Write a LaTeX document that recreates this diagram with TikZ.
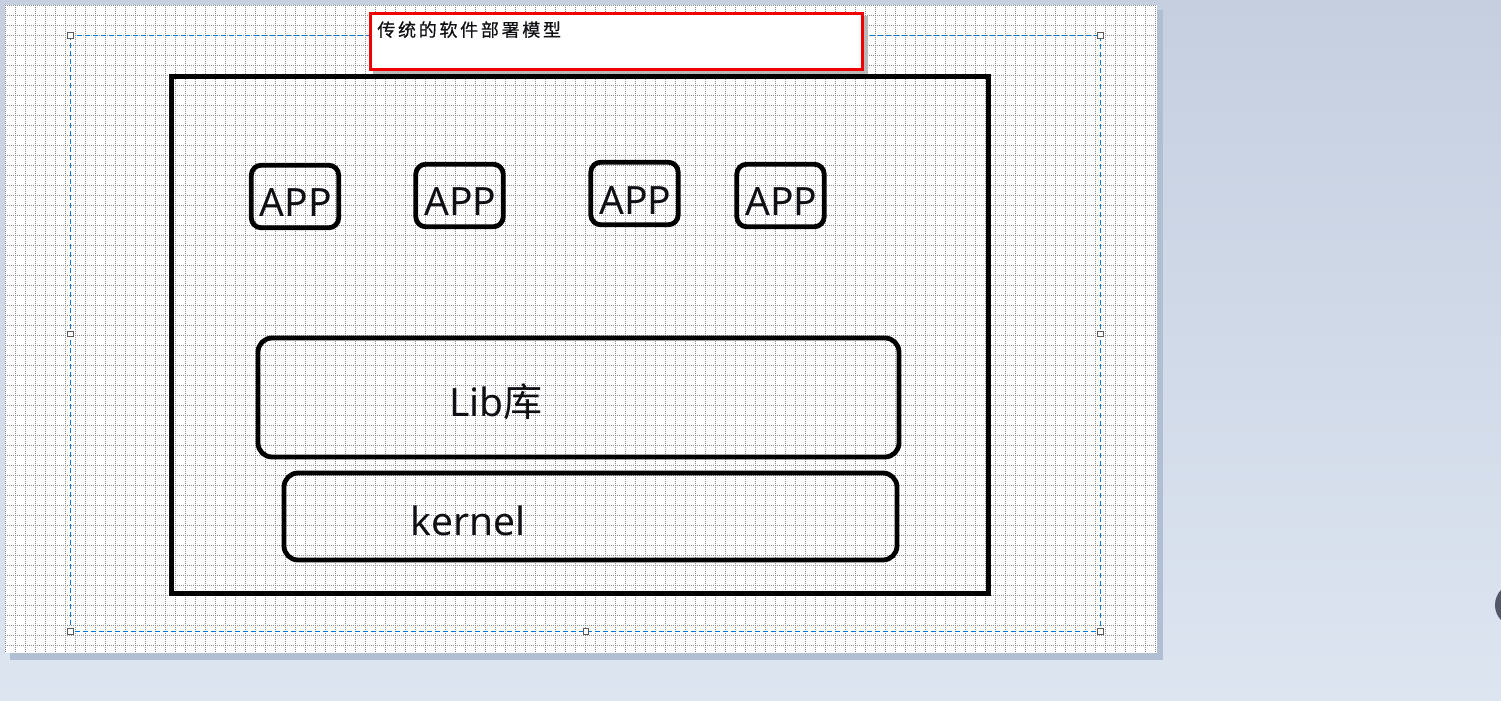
\documentclass[tikz,border=0pt]{standalone}
\usepackage{fontspec}
\setsansfont{Noto Sans}
\newfontfamily\cjkfont{Noto Sans CJK SC}
\newfontfamily\titlefont[LetterSpace=15,FakeBold=0.6]{Noto Sans CJK SC}
\usepackage{tikz}
\usetikzlibrary{positioning}
\definecolor{deskblue}{RGB}{197,207,224}
\definecolor{deskpale}{RGB}{221,229,241}
\definecolor{pageshadow}{RGB}{178,190,210}
\definecolor{gridgrey}{RGB}{140,140,140}
\definecolor{selblue}{RGB}{0,120,215}
\definecolor{handlegrey}{RGB}{90,90,90}
\definecolor{titlered}{RGB}{240,0,0}
\definecolor{boxshadow}{RGB}{185,185,185}
\definecolor{knobgrey}{RGB}{82,87,106}
\definecolor{inkblack}{RGB}{15,15,20}
\tikzset{
  gridline/.style={draw=gridgrey, line width=0.5pt, dash pattern=on 0.5pt off 0.5pt},
  selline/.style={draw=selblue, line width=0.5pt, dash pattern=on 2.5pt off 1.5pt},
  handle/.style={rectangle, draw=handlegrey, fill=white, line width=0.5pt, minimum size=2.6pt, inner sep=0pt},
  titlebox/.style={rectangle, draw=titlered, fill=white, line width=1.5pt, minimum width=246pt, minimum height=28pt, inner sep=0pt},
  titletext/.style={font=\titlefont\fontsize{9}{10}\selectfont, text=inkblack, anchor=base west, inner sep=0pt},
  hostbox/.style={rectangle, draw=black, line width=2.5pt, minimum width=408.3pt, minimum height=258.7pt, inner sep=0pt},
  appbox/.style={rectangle, draw=black, line width=2.4pt, rounded corners=5pt, minimum width=43.7pt, minimum height=31.3pt, inner sep=0pt},
  layerbox/.style={rectangle, draw=black, line width=2.4pt, rounded corners=7pt, inner sep=0pt},
  bigtext/.style={font=\sffamily\fontsize{19.5}{22}\selectfont, text=inkblack, anchor=base, inner sep=0pt},
}

\begin{document}
\begin{tikzpicture}[x=0.5pt,y=-0.5pt]
  \useasboundingbox (0,0) rectangle (1501,701);
  \clip (0,0) rectangle (1501,701);
  % desk and page
  \shade[top color=deskblue, bottom color=deskpale] (0,0) rectangle (1501,701);
  \fill[pageshadow] (10,10) rectangle (1163,660);
  \fill[white] (5,5) rectangle (1157,653);
  \foreach \gx in {5.5,15.5,...,1155.5} \draw[gridline] (\gx,5) -- (\gx,653);
  \foreach \gy in {5.5,15.5,...,645.5} \draw[gridline] (5,\gy) -- (1157,\gy);
  % selection frame
  \draw[selline] (70.5,35.5) rectangle (1100.5,631.5);
  \foreach \n/\hx/\hy in {1/70.5/35.5,2/586/35.5,3/1100.5/35.5,4/70.5/334,5/1100.5/334,6/70.5/631.5,7/586/631.5,8/1100.5/631.5}
    \node[handle] (h\n) at (\hx,\hy) {};
  % title
  \fill[boxshadow] (373,16) rectangle (868,75);
  \node[titlebox] (title) at (616.5,41.5) {};
  \node[titletext] (titletxt) at (377,36.5) {传统的软件部署模型};
  % model
  \node[hostbox] (host) at (580.2,335.2) {};
  \foreach \n/\ax/\ay in {1/295/196.5,2/459.5/195.5,3/634.5/193.5,4/780.5/195.5}{
    \node[appbox] (app\n) at (\ax,\ay) {};
    \node[bigtext] (app\n txt) at (\ax+1,\ay+20.5) {APP};
  }
  \node[layerbox, minimum width=320.5pt, minimum height=59.5pt] (lib) at (578.5,397.5) {};
  \node[bigtext] (libtxt) at (496,416) {Lib{\cjkfont 库}};
  \node[layerbox, minimum width=306.5pt, minimum height=43.5pt] (kernel) at (590.5,516.5) {};
  \node[bigtext] (kerneltxt) at (468,535) {kernel};
  \fill[knobgrey] (1517,605) circle (22);
\end{tikzpicture}
\end{document}
